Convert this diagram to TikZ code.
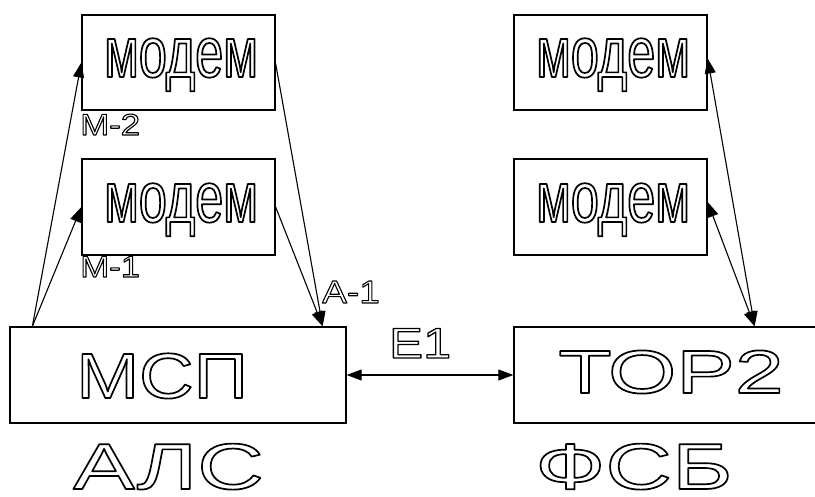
\documentclass[tikz,border=0pt]{standalone}
\usepackage{fontspec}
\usetikzlibrary{arrows.meta}
\newfontfamily\fmodem[FakeStretch=0.7]{Liberation Sans}
\newfontfamily\fmcp[FakeStretch=1.18]{Liberation Sans}
\newfontfamily\fwide[FakeStretch=1.42]{Liberation Sans}
\newfontfamily\ftor[FakeStretch=1.44]{Liberation Sans}
\newfontfamily\fsmall[FakeStretch=1.16]{Liberation Sans}
\newcommand\outlined[2][1.7]{\special{pdf:literal direct 1 Tr #1 w 1 j}#2\special{pdf:literal direct 0 Tr}}
\tikzset{
  box/.style={draw, line width=1.3pt, inner sep=0pt},
  conn/.style={line width=1.1pt, -{Triangle[length=15pt,width=11pt]}},
  bconn/.style={line width=1.1pt, {Triangle[length=15pt,width=11pt]}-{Triangle[length=15pt,width=11pt]}},
  txt/.style={anchor=base west, inner sep=0pt}
}
\begin{document}
\begin{tikzpicture}[x=1pt,y=-1pt]
\useasboundingbox (0,0) rectangle (815,496);
% boxes
\node[box, minimum width=193pt, minimum height=95pt] (m2) at (178.5,62.5) {};
\node[box, minimum width=193pt, minimum height=96pt] (m1) at (178.5,207) {};
\node[box, minimum width=193pt, minimum height=95pt] (r2) at (610.5,62.5) {};
\node[box, minimum width=193pt, minimum height=96pt] (r1) at (610.5,207) {};
\node[box, minimum width=336pt, minimum height=96pt] (mcp) at (178,375) {};
\node[box, minimum width=304pt, minimum height=96pt] (tor) at (666,375) {};
% connectors
\coordinate (mcpL) at ([xshift=23pt]mcp.north west);
\coordinate (mcpR) at ([xshift=-24pt]mcp.north east);
\coordinate (torR) at ([xshift=-64pt]tor.north east);
\draw[conn] (mcpL) -- (m2.west);
\draw[conn] (mcpL) -- (m1.west);
\draw[conn] ([yshift=-1pt]m2.east) -- (mcpR);
\draw[conn] (m1.east) -- (mcpR);
\draw[bconn] (torR) -- ([yshift=4pt]r2.east);
\draw[bconn] (torR) -- ([yshift=5pt]r1.east);
\draw[bconn] (mcp.east) -- (tor.west);
% texts
\node[txt] (t1) at (104,77) {\fontsize{72}{72}\fmodem\outlined{модем}};
\node[txt] (t2) at (104,222) {\fontsize{72}{72}\fmodem\outlined{модем}};
\node[txt] (t3) at (536,77) {\fontsize{72}{72}\fmodem\outlined{модем}};
\node[txt] (t4) at (536,222) {\fontsize{72}{72}\fmodem\outlined{модем}};
\node[txt] (t5) at (76,398) {\fontsize{64}{64}\fmcp\outlined{МСП}};
\node[txt] (t6) at (73,489) {\fontsize{65}{65}\fwide\outlined{АЛС}};
\node[txt] (t7) at (558,393) {\fontsize{61}{61}\ftor\outlined{ТОР2}};
\node[txt] (t8) at (535,489) {\fontsize{65}{65}\fwide\outlined{ФСБ}};
\node[txt] (t9) at (389,358) {\fontsize{43}{43}\fmcp\outlined[1.3]{E1}};
\node[txt] (t10) at (80,135) {\fontsize{30}{30}\fsmall\outlined[1.1]{M-2}};
\node[txt] (t11) at (80,277) {\fontsize{30}{30}\fsmall\outlined[1.1]{M-1}};
\node[txt] (t12) at (322,303) {\fontsize{32}{32}\fsmall\outlined[1.1]{A-1}};
\end{tikzpicture}
\end{document}
